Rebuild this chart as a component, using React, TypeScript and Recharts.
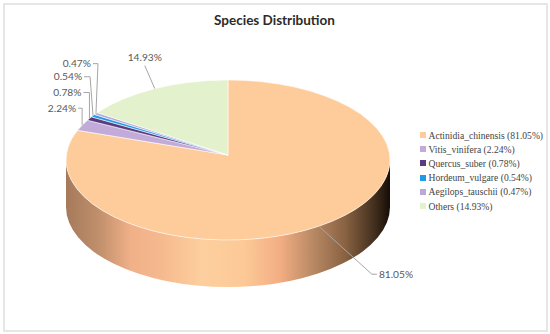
import { PieChart, Pie, Legend } from "recharts";

const species = ["Actinidia_chinensis", "Vitis_vinifera", "Quercus_suber", "Hordeum_vulgare", "Aegilops_tauschii", "Others"];
const shares = [81.05, 2.24, 0.78, 0.54, 0.47, 14.93];
const colors = ["#fdcc9a", "#c2abd8", "#5a3a80", "#1f9ae6", "#b9a9d9", "#e3f1cd"];

// elbow and text end of each leader line, relative to the point on the rim
const leaders = [
  { ex: 53, ey: 48, tx: 58, ty: 48 },
  { ex: 0, ey: -17, tx: -4, ty: -17 },
  { ex: 0, ey: -26, tx: -6, ty: -26 },
  { ex: -3, ey: -39, tx: -9, ty: -39 },
  { ex: 2, ey: -50, tx: -3, ty: -50 },
  { ex: -10, ey: -23, tx: -10, ty: -23 },
];

const data = species.map((name, i) => ({
  name: `${name} (${shares[i].toFixed(2)}%)`,
  value: shares[i],
  fill: colors[i],
}));

const TILT = 80 / 162;
const DEPTH = 47;
const APEX_LIFT = 5;
const LABEL_FONT = "Lato, 'Open Sans', sans-serif";

const rim = (cx: number, cy: number, r: number, deg: number) => {
  const a = (deg * Math.PI) / 180;
  return { x: cx + r * Math.cos(a), y: cy - r * TILT * Math.sin(a) };
};

const EllipseSector = (props: any) => {
  const { cx, cy, outerRadius: r, startAngle, endAngle, fill } = props;
  const ry = r * TILT;
  const p0 = rim(cx, cy, r, startAngle);
  const p1 = rim(cx, cy, r, endAngle);
  const large = Math.abs(startAngle - endAngle) > 180 ? 1 : 0;
  // only the big slice reaches the front half of the disc
  const hasWall = endAngle < 0 && startAngle > 0;
  return (
    <g>
      {hasWall && (
        <>
          <defs>
            <linearGradient id="wall" x1="0" y1="0" x2="1" y2="0">
              <stop offset="0" stopColor="#a57a5a" />
              <stop offset="0.1" stopColor="#c08f6c" />
              <stop offset="0.2" stopColor="#f0b088" />
              <stop offset="0.3" stopColor="#f6ba8f" />
              <stop offset="0.42" stopColor="#fdcf9e" />
              <stop offset="0.55" stopColor="#fcc997" />
              <stop offset="0.66" stopColor="#f3ae83" />
              <stop offset="0.76" stopColor="#b98a65" />
              <stop offset="0.86" stopColor="#8a6343" />
              <stop offset="0.95" stopColor="#44301e" />
              <stop offset="1" stopColor="#150d06" />
            </linearGradient>
          </defs>
          <path
            d={`M${cx - r},${cy} A${r},${ry} 0 0 0 ${cx + r},${cy} L${cx + r},${cy + DEPTH} A${r},${ry} 0 0 1 ${cx - r},${cy + DEPTH} Z`}
            fill="url(#wall)"
          />
        </>
      )}
      <path
        d={`M${cx},${cy - APEX_LIFT} L${p0.x},${p0.y} A${r},${ry} 0 ${large} 1 ${p1.x},${p1.y} Z`}
        fill={fill}
        stroke="#fff"
        strokeWidth={0.7}
        strokeOpacity={0.8}
      />
    </g>
  );
};

const LeaderLabel = (props: any) => {
  const { cx, cy, outerRadius, midAngle, index } = props;
  const p = rim(cx, cy, outerRadius, midAngle);
  const l = leaders[index];
  const right = l.tx > 0;
  const isOthers = index === 5;
  return (
    <g>
      <polyline
        points={`${p.x},${p.y} ${p.x + l.ex},${p.y + l.ey} ${p.x + l.tx},${p.y + l.ty}`}
        fill="none"
        stroke="#a6a6a6"
        strokeWidth={1}
      />
      <text
        x={p.x + l.tx + (right ? 2 : isOthers ? 0 : -2)}
        y={p.y + l.ty + (isOthers ? -5 : 3.5)}
        textAnchor={right ? "start" : isOthers ? "middle" : "end"}
        fontFamily={LABEL_FONT}
        fontSize={10.2}
        fill="#595959"
      >
        {shares[index].toFixed(2)}%
      </text>
    </g>
  );
};

const LegendList = ({ payload }: any) => (
  <div>
    {(payload || []).map((item: any) => (
      <div key={item.value} style={{ height: 14.2, display: "flex", alignItems: "center", whiteSpace: "nowrap" }}>
        <span style={{ width: 6, height: 6, marginRight: 2.5, background: item.color, flex: "none" }} />
        <span style={{ color: "#444" }}>{item.value}</span>
      </div>
    ))}
  </div>
);

export default function App() {
  return (
    <div style={{ position: "absolute", left: 0, top: 0, width: 550, height: 334, background: "#fff" }}>
      <div
        style={{
          position: "absolute",
          left: 3,
          top: 3,
          width: 541,
          height: 325,
          border: "2px solid #e6e6e6",
        }}
      />
      <div
        style={{
          position: "absolute",
          left: 0,
          top: 12,
          width: 549,
          textAlign: "center",
          fontFamily: LABEL_FONT,
          fontWeight: 700,
          fontSize: 13.5,
          lineHeight: "17px",
          color: "#2b2b2b",
        }}
      >
        Species Distribution
      </div>
      <PieChart width={550} height={334} margin={{ top: 0, right: 0, bottom: 0, left: 0 }}>
        <Pie
          data={data}
          dataKey="value"
          nameKey="name"
          cx={228}
          cy={160}
          outerRadius={162}
          startAngle={90}
          endAngle={-270}
          stroke="none"
          shape={EllipseSector}
          label={LeaderLabel}
          labelLine={false}
          isAnimationActive={false}
        />
        <Legend
          layout="vertical"
          align="right"
          verticalAlign="top"
          itemSorter={null}
          content={LegendList}
          wrapperStyle={{
            left: 420,
            top: 128,
            width: 124,
            fontFamily: "'Liberation Serif', serif",
            fontSize: 9.6,
          }}
        />
      </PieChart>
    </div>
  );
}
